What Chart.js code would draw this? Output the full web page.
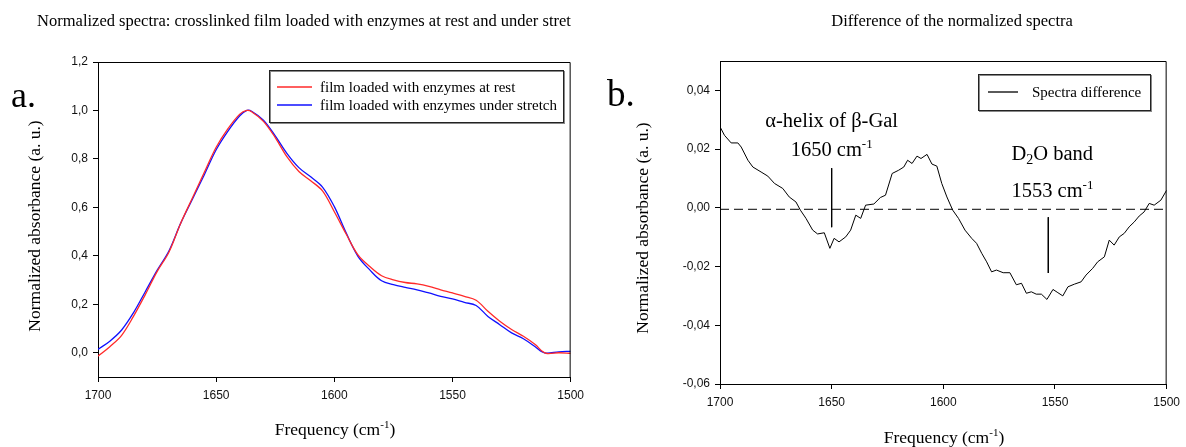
<!DOCTYPE html>
<html>
<head>
<meta charset="utf-8">
<script src="https://cdn.jsdelivr.net/npm/chart.js@4.4.0/dist/chart.umd.min.js"></script>
<style>
  body { margin: 0; background: #fff; width: 1186px; height: 447px; overflow: hidden; position: relative; }
  canvas { position: absolute; top: 0; }
</style>
</head>
<body>
<canvas id="left" width="590" height="447" style="left:0"></canvas>
<canvas id="right" width="596" height="447" style="left:590px"></canvas>
<script>
// panel a: normalized spectra
const freqA = [1700, 1695, 1690, 1685, 1680, 1675, 1670, 1665, 1660, 1655, 1650, 1645, 1640, 1637, 1635, 1630, 1625, 1620, 1615, 1610, 1605, 1600,
  1595, 1590, 1585, 1580, 1575, 1570, 1565, 1560, 1555, 1550, 1545, 1540, 1535, 1530, 1525, 1520, 1515, 1512, 1510, 1505, 1500];
const atRest = [-0.014, 0.025, 0.072, 0.15, 0.24, 0.335, 0.415, 0.535, 0.64, 0.745, 0.848, 0.925, 0.985, 1.0, 0.995, 0.955, 0.888, 0.808, 0.748, 0.71, 0.668, 0.582,
  0.49, 0.404, 0.356, 0.318, 0.301, 0.29, 0.284, 0.274, 0.26, 0.247, 0.233, 0.217, 0.171, 0.13, 0.096, 0.068, 0.034, 0.006, -0.003, 0.0, -0.002];
const underStretch = [0.014, 0.048, 0.094, 0.165, 0.252, 0.34, 0.42, 0.535, 0.635, 0.735, 0.838, 0.915, 0.978, 1.0, 0.997, 0.96, 0.895, 0.822, 0.764, 0.726, 0.684, 0.603,
  0.495, 0.398, 0.342, 0.297, 0.281, 0.27, 0.26, 0.247, 0.233, 0.222, 0.208, 0.195, 0.15, 0.116, 0.082, 0.058, 0.025, 0.003, -0.002, 0.004, 0.006];

// panel b: difference spectrum
const freqB = [1700, 1698, 1695, 1692, 1690.5, 1687.5, 1685.3, 1681.6, 1678.6, 1675.6, 1671.9, 1669, 1666, 1664, 1661.5, 1658.5, 1656.3, 1653.3,
  1650.8, 1648.9, 1646.7, 1643.7, 1641.5, 1639.2, 1637, 1634.8, 1631.1, 1628.2, 1625.9, 1622.9, 1620, 1617.7, 1616, 1614, 1611.8, 1610, 1607.3,
  1605.1, 1602.9, 1600.7, 1598.4, 1595.8, 1593.2, 1590.3, 1587.3, 1585.1, 1582.8, 1580.6, 1578.4, 1576.2, 1573.2, 1570.2, 1567.3, 1565, 1562.8,
  1560.6, 1558.4, 1556.1, 1553.6, 1550.9, 1548.7, 1546.5, 1544.2, 1541.3, 1538.3, 1536.1, 1533.1, 1530.9, 1527.9, 1525.7, 1523.5, 1521.2, 1519,
  1516.8, 1514.5, 1512.3, 1510.1, 1507.8, 1505.6, 1502.6, 1500];
const diffVals = [0.0276, 0.0247, 0.0221, 0.0221, 0.0207, 0.0162, 0.0139, 0.0122, 0.0108, 0.0083, 0.0066, 0.0037, 0.002, -0.0008, -0.0036, -0.0076, -0.0089, -0.0085,
  -0.0138, -0.0104, -0.0116, -0.0099, -0.0076, -0.0025, -0.0036, 0.0009, 0.0013, 0.0035, 0.0043, 0.0117, 0.0128, 0.0139, 0.0162, 0.0151, 0.0176, 0.0168, 0.0182,
  0.0149, 0.0142, 0.0083, 0.0037, -0.0008, -0.0036, -0.0076, -0.0104, -0.0121, -0.0155, -0.0184, -0.0218, -0.0212, -0.0221, -0.0221, -0.0262, -0.0257, -0.0291,
  -0.0286, -0.0294, -0.0294, -0.0312, -0.0278, -0.0289, -0.03, -0.0269, -0.026, -0.0252, -0.0229, -0.0206, -0.0184, -0.0167, -0.011, -0.0127, -0.0099, -0.0087,
  -0.0065, -0.0048, -0.0028, -0.0014, 0.0015, 0.0009, 0.0026, 0.006];
const baseline = -0.0005;
const helixMark = { x: 1650, from: 0.0135, to: -0.0066 };
const d2oMark = { x: 1553, from: -0.0032, to: -0.0222 };

const freqTicks = [1700, 1650, 1600, 1550, 1500];
const ticksA = [0, 0.2, 0.4, 0.6, 0.8, 1.0, 1.2];
const ticksB = [-0.06, -0.04, -0.02, 0, 0.02, 0.04];

const SERIF = '"Liberation Serif", "Times New Roman", serif';
const SANS = '"Liberation Sans", Arial, sans-serif';

function pts(xs, ys) { return xs.map((x, i) => ({ x: x, y: ys[i] })); }

function xAxis() {
  return {
    type: 'linear', reverse: true, min: 1500, max: 1700,
    afterBuildTicks: s => { s.ticks = freqTicks.map(v => ({ value: v })); },
    afterFit: s => { s.height = 30; },
    grid: { drawOnChartArea: false, drawTicks: true, tickLength: 5, color: '#000' },
    border: { display: true, color: '#000' },
    ticks: { color: '#111', font: { family: SANS, size: 12 }, padding: 6, autoSkip: false, maxRotation: 0, callback: v => String(v) }
  };
}
function yAxis(min, max, tickList, digits, width) {
  return {
    type: 'linear', min: min, max: max,
    afterBuildTicks: s => { s.ticks = tickList.map(v => ({ value: v })); },
    afterFit: s => { s.width = width; },
    grid: { drawOnChartArea: false, drawTicks: true, tickLength: 5, color: '#000' },
    border: { display: true, color: '#000' },
    ticks: { color: '#111', font: { family: SANS, size: 12 }, padding: 5, autoSkip: false,
      callback: v => Number(v).toFixed(digits).replace('.', ',') }
  };
}

function supText(ctx, parts, cx, y, size) {
  // parts: [text, superscript, text]
  const small = Math.round(size * 0.62);
  ctx.font = size + 'px ' + SERIF;
  const w1 = ctx.measureText(parts[0]).width;
  const w3 = ctx.measureText(parts[2]).width;
  ctx.font = small + 'px ' + SERIF;
  const w2 = ctx.measureText(parts[1]).width;
  const x = cx - (w1 + w2 + w3) / 2;
  ctx.textAlign = 'left';
  ctx.textBaseline = 'alphabetic';
  ctx.font = size + 'px ' + SERIF;
  ctx.fillText(parts[0], x, y);
  ctx.font = small + 'px ' + SERIF;
  ctx.fillText(parts[1], x + w1, y - size * 0.42);
  ctx.font = size + 'px ' + SERIF;
  ctx.fillText(parts[2], x + w1 + w2, y);
}

function frame(chart) {
  const a = chart.chartArea, ctx = chart.ctx;
  ctx.save();
  ctx.strokeStyle = '#000';
  ctx.lineWidth = 1;
  ctx.beginPath();
  ctx.moveTo(a.left, a.top + 0.5);
  ctx.lineTo(a.right - 0.5, a.top + 0.5);
  ctx.lineTo(a.right - 0.5, a.bottom);
  ctx.stroke();
  ctx.restore();
}

function legendBox(ctx, box, items, lineX, textX) {
  ctx.save();
  ctx.fillStyle = '#fff';
  ctx.fillRect(box.x, box.y, box.w, box.h);
  ctx.strokeStyle = '#888';
  ctx.lineWidth = 1;
  ctx.strokeRect(box.x + 1.5, box.y + 1.5, box.w, box.h);
  ctx.strokeStyle = '#222';
  ctx.strokeRect(box.x + 0.5, box.y + 0.5, box.w, box.h);
  ctx.font = '15px ' + SERIF;
  ctx.textBaseline = 'middle';
  ctx.textAlign = 'left';
  items.forEach(it => {
    ctx.strokeStyle = it.color;
    ctx.lineWidth = 1.3;
    ctx.beginPath();
    ctx.moveTo(lineX[0], it.y);
    ctx.lineTo(lineX[1], it.y);
    ctx.stroke();
    ctx.fillStyle = '#000';
    ctx.fillText(it.label, textX, it.y + 1);
  });
  ctx.restore();
}

function vText(ctx, text, x, y, size) {
  ctx.save();
  ctx.translate(x, y);
  ctx.rotate(-Math.PI / 2);
  ctx.font = size + 'px ' + SERIF;
  ctx.textAlign = 'center';
  ctx.textBaseline = 'middle';
  ctx.fillStyle = '#000';
  ctx.fillText(text, 0, 0);
  ctx.restore();
}

const decorA = {
  id: 'decorA',
  afterDraw(chart) {
    const ctx = chart.ctx;
    frame(chart);
    ctx.save();
    ctx.fillStyle = '#000';
    ctx.textAlign = 'center';
    ctx.textBaseline = 'alphabetic';
    ctx.font = '16.5px ' + SERIF;
    ctx.fillText('Normalized spectra: crosslinked film loaded with enzymes at rest and under stret', 304, 26);
    ctx.textAlign = 'left';
    ctx.font = '36px ' + SERIF;
    ctx.fillText('a.', 11, 107);
    vText(ctx, 'Normalized absorbance (a. u.)', 35, 226, 17.5);
    supText(ctx, ['Frequency (cm', '-1', ')'], 335, 435, 17.5);
    const ds = chart.data.datasets;
    legendBox(ctx, { x: 269, y: 70, w: 294, h: 52 },
      [{ label: ds[0].label, color: ds[0].borderColor, y: 87 }, { label: ds[1].label, color: ds[1].borderColor, y: 105 }],
      [277, 312], 320);
    ctx.restore();
  }
};

const decorB = {
  id: 'decorB',
  afterDraw(chart) {
    const ctx = chart.ctx, x = chart.scales.x, y = chart.scales.y;
    frame(chart);
    ctx.save();
    ctx.fillStyle = '#000';
    ctx.textAlign = 'center';
    ctx.textBaseline = 'alphabetic';
    ctx.font = '16.5px ' + SERIF;
    ctx.fillText('Difference of the normalized spectra', 362, 26);
    ctx.textAlign = 'left';
    ctx.font = '37px ' + SERIF;
    ctx.fillText('b.', 17, 106);
    vText(ctx, 'Normalized absorbance (a. u.)', 53, 228, 17.5);
    supText(ctx, ['Frequency (cm', '-1', ')'], 354, 443, 17.5);

    // annotations
    const big = 20.5;
    ctx.textAlign = 'center';
    ctx.font = big + 'px ' + SERIF;
    ctx.fillText('\u03b1-helix of \u03b2-Gal', x.getPixelForValue(1650), y.getPixelForValue(0.0274));
    supText(ctx, ['1650 cm', '-1', ''], x.getPixelForValue(1650), y.getPixelForValue(0.0176), big);
    const lx = x.getPixelForValue(1569.5);
    ctx.textAlign = 'left';
    ctx.font = big + 'px ' + SERIF;
    const by = y.getPixelForValue(0.0162);
    ctx.fillText('D', lx, by);
    const wD = ctx.measureText('D').width;
    ctx.font = '14px ' + SERIF;
    ctx.fillText('2', lx + wD, by + 4);
    const w2 = ctx.measureText('2').width;
    ctx.font = big + 'px ' + SERIF;
    ctx.fillText('O band', lx + wD + w2, by);
    const w1553 = ctx.measureText('1553 cm').width;
    const cy = y.getPixelForValue(0.0036);
    ctx.fillText('1553 cm', lx, cy);
    ctx.font = '13px ' + SERIF;
    ctx.fillText('-1', lx + w1553, cy - 8);

    legendBox(ctx, { x: 388, y: 74, w: 172, h: 36 },
      [{ label: chart.data.datasets[0].label, color: '#000', y: 92 }], [398, 428], 442);
    ctx.restore();
  }
};

Chart.defaults.font.family = SANS;

new Chart(document.getElementById('left'), {
  type: 'line',
  data: {
    datasets: [
      { label: 'film loaded with enzymes at rest', data: pts(freqA, atRest), borderColor: '#ff2a2a', borderWidth: 1.3, pointRadius: 0, tension: 0.35 },
      { label: 'film loaded with enzymes under stretch', data: pts(freqA, underStretch), borderColor: '#1010ff', borderWidth: 1.3, pointRadius: 0, tension: 0.35 }
    ]
  },
  options: {
    responsive: false, animation: false, devicePixelRatio: 1,
    layout: { padding: { left: 0, top: 62, right: 19, bottom: 40 } },
    plugins: { legend: { display: false }, tooltip: { enabled: false }, title: { display: false } },
    scales: { x: xAxis(), y: yAxis(-0.1, 1.2, ticksA, 1, 98) }
  },
  plugins: [decorA]
});

new Chart(document.getElementById('right'), {
  type: 'line',
  data: {
    datasets: [
      { label: 'Spectra difference', data: pts(freqB, diffVals), borderColor: '#000', borderWidth: 1, pointRadius: 0, tension: 0 },
      { label: 'zero', data: pts([1700, 1500], [baseline, baseline]), borderColor: '#000', borderWidth: 1, borderDash: [9, 5], pointRadius: 0 },
      { label: 'helix', data: pts([helixMark.x, helixMark.x], [helixMark.from, helixMark.to]), borderColor: '#000', borderWidth: 1, pointRadius: 0 },
      { label: 'd2o', data: pts([d2oMark.x, d2oMark.x], [d2oMark.from, d2oMark.to]), borderColor: '#000', borderWidth: 1, pointRadius: 0 }
    ]
  },
  options: {
    responsive: false, animation: false, devicePixelRatio: 1,
    layout: { padding: { left: 0, top: 61, right: 17, bottom: 33 } },
    plugins: { legend: { display: false }, tooltip: { enabled: false }, title: { display: false } },
    scales: { x: xAxis(), y: yAxis(-0.06, 0.05, ticksB, 2, 130) }
  },
  plugins: [decorB]
});
</script>
</body>
</html>
